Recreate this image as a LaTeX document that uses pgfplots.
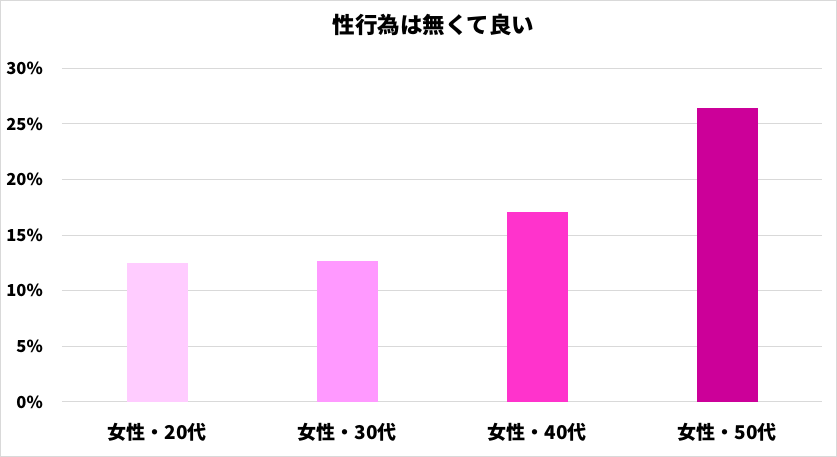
\documentclass[border=0pt]{standalone}
\usepackage{fontspec}
\setmainfont{Noto Sans CJK JP}
\usepackage{pgfplots}
\pgfplotsset{compat=1.18}
\definecolor{gridgray}{HTML}{D9D9D9}
\definecolor{cA}{HTML}{FFCCFF}
\definecolor{cB}{HTML}{FF99FF}
\definecolor{cC}{HTML}{FF33CC}
\definecolor{cD}{HTML}{CC0099}
\begin{document}
\begin{tikzpicture}
  % page frame, 837 x 457 px with 1px = 1pt
  \path[use as bounding box] (-62pt,-55pt) rectangle (775pt,402pt);
  \draw[gridgray, line width=1pt] (-61.5pt,-54.5pt) rectangle (774.5pt,401.5pt);
  \begin{axis}[
    scale only axis, width=760pt, height=333.7pt,
    xmin=-0.5, xmax=3.5, ymin=0, ymax=30,
    ybar, bar width=61pt, bar shift=0pt,
    axis x line*=bottom, axis y line*=left,
    x axis line style={gridgray, line width=1pt, -},
    y axis line style={draw=none},
    major tick length=0pt,
    ytick={0,5,...,30},
    yticklabel={\pgfmathprintnumber{\tick}\%},
    /pgf/number format/assume math mode=true,
    xtick={0,1,2,3},
    xticklabels={女性・20代, 女性・30代, 女性・40代, 女性・50代},
    ymajorgrids, grid style={gridgray, line width=1pt},
    yticklabel style={font=\fontsize{16.5}{18}\selectfont\bfseries, anchor=east, inner sep=0pt, xshift=-19pt},
    xticklabel style={font=\fontsize{19}{21}\selectfont\bfseries, anchor=center, inner sep=0pt, yshift=-30pt},
    title={性行為は無くて良い},
    title style={font=\fontsize{22.5}{24}\selectfont\bfseries, at={(rel axis cs:0.4888,1)}, anchor=center, yshift=37pt},
  ]
    \addplot[fill=cA, draw=none] coordinates {(0,12.52)};
    \addplot[fill=cB, draw=none] coordinates {(1,12.68)};
    \addplot[fill=cC, draw=none] coordinates {(2,17.08)};
    \addplot[fill=cD, draw=none] coordinates {(3,26.43)};
  \end{axis}
\end{tikzpicture}
\end{document}
